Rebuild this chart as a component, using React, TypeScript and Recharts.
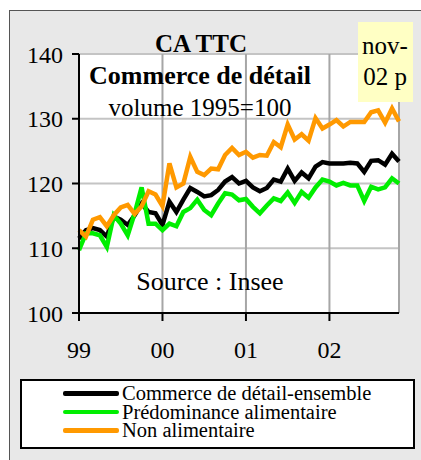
import React from 'react';
import { LineChart, Line, XAxis, YAxis, CartesianGrid } from 'recharts';

// indices mensuels : janv. 1999 (0) -> nov. 2002 (46)
const ensemble = [
  111.5, 112.8, 113.1, 112.8, 111.8, 114.9, 114.4, 113.6, 115.1, 116.9, 115.6, 115.4,
  113.6, 117.2, 115.6, 117.5, 119.3, 118.7, 118.0, 118.2, 119.0, 120.3, 121.0, 120.0,
  120.4, 119.4, 118.8, 119.3, 120.6, 120.3, 122.3, 120.4, 121.7, 120.8, 122.6, 123.3,
  123.1, 123.1, 123.1, 123.2, 123.1, 121.8, 123.5, 123.6, 122.9, 124.6, 123.4,
];
const alimentaire = [
  109.7, 112.3, 112.3, 112.0, 110.2, 115.1, 113.8, 112.0, 115.4, 119.4, 113.8, 113.8,
  112.8, 113.8, 113.4, 115.6, 116.2, 117.5, 115.9, 115.1, 116.9, 118.5, 118.3, 117.4,
  117.6, 116.4, 115.4, 116.6, 117.7, 117.3, 118.6, 117.0, 118.7, 117.8, 119.4, 120.6,
  120.3, 119.7, 120.1, 119.7, 119.7, 117.3, 119.5, 119.1, 119.4, 120.8, 120.0,
];
const nonAlimentaire = [
  112.8, 111.8, 114.4, 114.8, 113.4, 115.1, 116.3, 116.7, 115.3, 116.5, 118.8, 118.3,
  116.5, 123.1, 119.4, 120.0, 124.1, 121.8, 121.3, 122.3, 122.2, 124.4, 125.5, 124.4,
  124.9, 124.0, 124.4, 124.3, 126.4, 125.6, 129.1, 126.8, 127.6, 126.6, 130.1, 128.5,
  129.1, 129.8, 128.8, 129.5, 129.5, 129.5, 131.0, 131.3, 129.4, 131.6, 129.6,
];

const yearTicks = [0, 12, 24, 36];
const yearLabels = ['99', '00', '01', '02'];
const yTicks = [100, 110, 120, 130, 140];

const series = [
  { key: 'ensemble', name: 'Commerce de détail-ensemble', color: '#000000' },
  { key: 'alimentaire', name: 'Prédominance alimentaire', color: '#00ee00' },
  { key: 'nonAlimentaire', name: 'Non alimentaire', color: '#ff9900' },
];

const data = ensemble.map((v, i) => ({
  mois: i,
  ensemble: v,
  alimentaire: alimentaire[i],
  nonAlimentaire: nonAlimentaire[i],
}));

const FONT = '"Liberation Serif", "Times New Roman", serif';

function Txt({ x, y, size, bold, children }: { x: number; y: number; size: number; bold?: boolean; children: React.ReactNode }) {
  const lh = size * 1.2;
  return (
    <div
      style={{
        position: 'absolute',
        left: x - 150,
        top: y - lh / 2,
        width: 300,
        height: lh,
        lineHeight: `${lh}px`,
        textAlign: 'center',
        fontSize: size,
        fontWeight: bold ? 'bold' : 'normal',
        fontFamily: FONT,
        color: '#000',
        whiteSpace: 'nowrap',
      }}
    >
      {children}
    </div>
  );
}

export default function App() {
  return (
    <div style={{ position: 'absolute', left: 0, top: 0, width: 421, height: 460, overflow: 'hidden', background: '#fff' }}>
      <div
        style={{
          position: 'absolute',
          left: 9,
          top: 10,
          width: 430,
          height: 470,
          background: '#e8e8e8',
          borderTop: '1px solid #555',
          borderLeft: '1px solid #555',
        }}
      />
      <div style={{ position: 'absolute', left: 0, top: 0 }}>
        <LineChart width={421} height={460} data={data} margin={{ top: 54, right: 22, bottom: 107, left: 19 }}>
          <CartesianGrid vertical={false} stroke="#c4c4c4" strokeWidth={2} fill="#ffffff" />
          <CartesianGrid horizontal={false} stroke="#a6a6a6" strokeWidth={2} />
          <XAxis
            dataKey="mois"
            type="number"
            domain={[0, 46]}
            ticks={yearTicks}
            tickFormatter={(v: number) => yearLabels[yearTicks.indexOf(v)]}
            height={40}
            axisLine={{ stroke: '#000', strokeWidth: 2 }}
            tickLine={{ stroke: '#000', strokeWidth: 2 }}
            tickSize={8}
            tickMargin={20}
            tick={{ fontSize: 24, fontFamily: FONT, fill: '#000' }}
          />
          <YAxis
            domain={[100, 140]}
            ticks={yTicks}
            width={60}
            axisLine={{ stroke: '#000', strokeWidth: 2 }}
            tickLine={{ stroke: '#000', strokeWidth: 2 }}
            tickSize={7}
            tickMargin={9}
            tick={{ fontSize: 24, fontFamily: FONT, fill: '#000' }}
          />
          {series.map((s) => (
            <Line
              key={s.key}
              dataKey={s.key}
              name={s.name}
              stroke={s.color}
              strokeWidth={4.5}
              dot={false}
              type="linear"
              isAnimationActive={false}
            />
          ))}
        </LineChart>
      </div>

      <Txt x={201} y={44} size={25} bold>CA TTC</Txt>
      <Txt x={200} y={76} size={26} bold>Commerce de détail</Txt>
      <Txt x={200} y={108} size={25}>volume 1995=100</Txt>
      <Txt x={210} y={282} size={26}>Source : Insee</Txt>

      <div style={{ position: 'absolute', left: 358, top: 22, width: 55, height: 80, background: '#ffffc4' }} />
      <Txt x={385} y={46} size={25}>nov-</Txt>
      <Txt x={385} y={77} size={25}>02 p</Txt>

      <div
        style={{
          position: 'absolute',
          left: 20,
          top: 379,
          width: 391,
          height: 66,
          background: '#fff',
          border: '2px solid #000',
        }}
      >
        {series.map((s, i) => (
          <div key={s.key} style={{ position: 'absolute', left: 41, top: 3 + i * 18.5, height: 18.5, width: 340 }}>
            <div style={{ position: 'absolute', left: 0, top: 7, width: 56, height: 4.5, background: s.color, borderRadius: 2 }} />
            <div
              style={{
                position: 'absolute',
                left: 59,
                top: 0,
                height: 18.5,
                lineHeight: '18.5px',
                fontSize: 20.5,
                fontFamily: FONT,
                color: '#000',
                whiteSpace: 'nowrap',
              }}
            >
              {s.name}
            </div>
          </div>
        ))}
      </div>
    </div>
  );
}
